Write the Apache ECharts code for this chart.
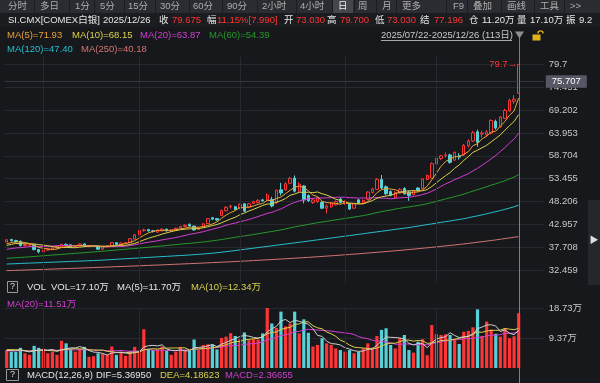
<!DOCTYPE html>
<html><head><meta charset="utf-8">
<script src="https://cdn.jsdelivr.net/npm/echarts@6/dist/echarts.min.js"></script>
<style>html,body{margin:0;padding:0;background:#17181c;}#c{width:600px;height:383px;}</style>
</head><body><div id="c"></div>
<script>
// ---------- data ----------
const categories = ['07/22','07/23','07/24','07/25','07/28','07/29','07/30','07/31',
'08/01','08/04','08/05','08/06','08/07','08/08','08/11','08/12','08/13','08/14','08/15','08/18','08/19','08/20','08/21','08/22','08/25','08/26','08/27','08/28','08/29',
'09/01','09/02','09/03','09/04','09/05','09/08','09/09','09/10','09/11','09/12','09/15','09/16','09/17','09/18','09/19','09/22','09/23','09/24','09/25','09/26','09/29','09/30',
'10/01','10/02','10/03','10/06','10/07','10/08','10/09','10/10','10/13','10/14','10/15','10/16','10/17','10/20','10/21','10/22','10/23','10/24','10/27','10/28','10/29','10/30','10/31',
'11/03','11/04','11/05','11/06','11/07','11/10','11/11','11/12','11/13','11/14','11/17','11/18','11/19','11/20','11/21','11/24','11/25','11/26','11/27','11/28',
'12/01','12/02','12/03','12/04','12/05','12/08','12/09','12/10','12/11','12/12','12/15','12/16','12/17','12/18','12/19','12/22','12/23','12/24','12/26'];
const futureSlots = ['', ' ', '  ', '   ', '    '];

const open = [38.95,39.50,39.30,39.10,38.10,38.10,38.30,37.20,36.70,37.10,37.40,37.60,37.80,38.40,38.30,37.80,38.00,38.50,37.90,38.00,38.00,37.30,37.90,38.00,38.80,38.40,38.70,38.80,39.60,40.60,41.60,41.80,41.50,41.20,41.50,41.90,41.50,41.60,42.10,42.50,43.00,42.60,41.80,42.40,43.20,44.50,44.30,45.00,46.10,47.00,47.00,46.60,47.70,46.90,47.80,48.00,48.60,48.60,48.70,47.90,50.90,50.90,52.40,53.60,50.60,51.80,49.60,48.00,48.20,48.00,46.70,47.00,47.50,48.80,47.80,47.70,46.70,48.60,48.10,48.70,50.30,51.00,53.30,51.60,50.50,49.20,50.20,51.20,50.40,49.80,51.30,51.20,53.30,53.60,56.80,58.10,58.80,58.90,57.70,58.70,58.90,61.00,62.10,64.20,63.70,63.50,63.90,66.60,65.40,67.30,69.00,71.20,73.03];
const close = [39.45,39.25,39.00,38.10,38.30,38.30,37.20,36.70,37.10,37.40,37.60,37.90,38.40,38.20,37.80,38.00,38.50,37.90,38.00,38.10,37.30,37.90,38.10,38.80,38.40,38.70,38.80,39.70,40.60,41.60,41.70,41.50,41.40,41.70,41.90,41.50,41.70,42.10,42.50,42.80,42.60,41.70,42.10,43.10,44.30,44.20,44.00,46.20,46.90,47.20,46.40,47.60,46.00,47.70,48.20,48.50,48.40,49.70,47.20,50.80,50.20,52.30,53.50,50.60,52.20,48.60,48.40,48.60,49.00,46.70,47.20,47.90,48.20,48.00,48.20,46.50,47.70,47.90,48.50,50.40,51.10,53.30,51.30,50.00,49.70,50.30,51.00,50.00,49.60,50.70,50.80,53.40,54.20,56.90,58.20,58.70,58.90,57.20,59.50,58.40,61.10,62.10,64.00,61.80,63.90,64.20,66.80,65.10,67.60,69.10,71.40,71.685,79.675];
const low = [38.85,39.05,38.80,37.95,37.90,37.95,37.05,36.35,36.50,36.95,37.25,37.45,37.70,38.00,37.60,37.65,37.90,37.80,37.75,37.85,37.15,37.20,37.80,37.95,38.25,38.30,38.55,38.70,39.50,40.50,41.30,41.30,41.10,41.05,41.40,41.35,41.35,41.50,41.95,42.35,42.45,41.55,41.65,42.30,43.10,43.95,43.80,44.90,45.95,46.60,46.25,46.45,45.85,46.70,47.60,47.85,48.15,48.45,46.90,47.70,49.60,50.70,52.20,50.30,50.30,47.80,48.10,47.70,47.90,46.50,45.50,46.80,47.30,47.80,47.50,46.30,46.50,47.70,47.90,48.50,50.10,50.90,51.00,49.70,49.40,49.00,50.00,49.80,48.40,49.60,50.50,51.00,53.10,53.40,56.50,57.70,58.30,56.90,57.50,57.80,58.70,60.60,61.90,60.80,62.90,63.10,63.60,64.70,65.10,67.10,68.80,70.60,73.03];
const high = [39.60,39.70,39.45,39.30,38.50,38.45,38.45,37.30,37.25,37.60,37.80,38.05,38.55,38.60,38.40,38.15,38.60,38.60,38.15,38.25,38.10,38.00,38.25,38.95,38.90,38.85,38.95,39.85,40.75,41.70,42.00,41.95,41.70,41.85,42.05,42.00,41.85,42.25,42.65,43.00,43.20,42.70,42.25,43.25,44.45,44.70,44.45,46.35,47.15,47.45,47.20,47.80,47.90,47.90,48.40,48.75,48.85,50.10,49.30,51.00,52.50,52.60,53.90,54.20,52.60,52.00,49.90,48.90,49.30,48.30,47.60,48.10,48.50,49.10,48.50,47.90,47.90,48.80,48.70,50.60,51.40,53.60,54.30,51.90,50.80,50.60,51.30,51.50,50.70,50.90,51.50,53.60,54.40,57.20,58.70,58.90,59.50,59.20,59.70,59.30,61.40,62.50,64.40,64.70,64.40,64.60,67.10,67.00,67.80,69.50,71.80,72.60,79.70];

const ma5 = [38.53,38.82,38.98,38.96,38.82,38.59,38.18,37.72,37.52,37.34,37.20,37.34,37.68,37.90,37.98,38.06,38.18,38.08,38.04,38.10,37.96,37.84,37.88,38.04,38.10,38.38,38.56,38.88,39.24,39.88,40.48,41.02,41.36,41.58,41.64,41.60,41.64,41.78,41.94,42.12,42.34,42.34,42.34,42.46,42.76,43.08,43.54,44.36,45.12,45.70,46.14,46.86,46.82,46.98,47.18,47.60,47.76,48.50,48.40,48.92,49.26,50.04,50.80,51.48,51.76,51.44,50.66,49.68,49.36,48.26,47.98,47.88,47.80,47.60,47.90,47.76,47.72,47.66,47.76,48.20,49.12,50.24,50.92,51.22,51.08,50.92,50.46,50.20,50.12,50.32,50.42,50.90,51.74,53.20,54.70,56.28,57.38,57.98,58.50,58.54,59.02,59.66,61.02,61.48,62.58,63.20,64.14,64.36,65.52,66.56,68.00,68.98,71.93];
const ma10 = [38.16,38.42,38.61,38.58,38.53,38.56,38.50,38.35,38.24,38.08,37.90,37.76,37.70,37.71,37.66,37.63,37.76,37.88,37.97,38.04,38.01,38.01,37.98,38.04,38.10,38.17,38.20,38.38,38.64,38.99,39.43,39.79,40.12,40.41,40.76,41.04,41.33,41.57,41.76,41.88,41.97,41.99,42.06,42.20,42.44,42.71,42.94,43.35,43.79,44.23,44.61,45.20,45.59,46.05,46.44,46.87,47.31,47.66,47.69,48.05,48.43,48.90,49.65,49.94,50.34,50.35,50.35,50.24,50.42,50.01,49.71,49.27,48.74,48.48,48.08,47.87,47.80,47.73,47.68,48.05,48.44,48.98,49.29,49.49,49.64,50.02,50.35,50.56,50.67,50.70,50.67,50.68,50.97,51.66,52.51,53.35,54.14,54.86,55.85,56.62,57.65,58.52,59.50,59.99,60.56,61.11,61.90,62.69,63.50,64.57,65.60,66.56,68.15];
const ma20 = [37.26,37.44,37.58,37.66,37.76,37.87,37.93,37.94,37.95,37.99,38.03,38.09,38.16,38.15,38.10,38.10,38.13,38.12,38.11,38.06,37.95,37.89,37.84,37.88,37.88,37.90,37.98,38.13,38.31,38.52,38.72,38.90,39.05,39.23,39.43,39.61,39.77,39.98,40.20,40.44,40.70,40.89,41.09,41.31,41.60,41.88,42.14,42.46,42.78,43.06,43.29,43.60,43.83,44.13,44.44,44.79,45.13,45.51,45.74,46.14,46.52,47.05,47.62,48.00,48.39,48.61,48.83,48.95,49.06,49.03,49.07,49.09,49.20,49.21,49.21,49.11,49.08,48.99,49.05,49.03,49.08,49.13,49.02,48.99,48.86,48.95,49.08,49.15,49.18,49.38,49.56,49.83,50.13,50.58,51.08,51.69,52.25,52.71,53.26,53.66,54.16,54.60,55.24,55.83,56.54,57.23,58.02,58.78,59.68,60.60,61.63,62.54,63.87];
const ma60 = [35.20,35.27,35.34,35.41,35.48,35.55,35.63,35.71,35.79,35.87,35.95,36.03,36.11,36.19,36.27,36.35,36.43,36.51,36.59,36.67,36.75,36.84,36.93,37.02,37.11,37.20,37.29,37.38,37.47,37.56,37.65,37.75,37.85,37.95,38.05,38.15,38.25,38.35,38.45,38.55,38.64,38.74,38.84,38.95,39.08,39.22,39.35,39.51,39.68,39.85,40.01,40.20,40.34,40.50,40.66,40.83,41.01,41.20,41.35,41.55,41.72,41.94,42.18,42.39,42.62,42.80,42.98,43.18,43.38,43.53,43.69,43.86,44.02,44.19,44.36,44.50,44.66,44.82,45.00,45.20,45.43,45.69,45.91,46.10,46.28,46.48,46.68,46.85,47.00,47.15,47.31,47.50,47.72,47.97,48.24,48.53,48.82,49.07,49.35,49.61,49.92,50.26,50.62,50.94,51.26,51.60,51.98,52.29,52.64,53.00,53.42,53.82,54.39];
const ma120 = [33.90,33.94,33.98,34.03,34.07,34.11,34.15,34.19,34.24,34.28,34.32,34.36,34.40,34.45,34.49,34.53,34.57,34.61,34.66,34.70,34.74,34.80,34.86,34.92,34.99,35.05,35.11,35.17,35.23,35.29,35.36,35.42,35.48,35.54,35.60,35.66,35.72,35.79,35.85,35.91,35.97,36.04,36.12,36.20,36.29,36.38,36.48,36.60,36.73,36.86,36.99,37.13,37.26,37.40,37.53,37.67,37.80,37.94,38.07,38.21,38.34,38.48,38.61,38.75,38.88,39.02,39.16,39.30,39.44,39.58,39.72,39.86,40.00,40.14,40.28,40.42,40.56,40.70,40.84,40.99,41.13,41.27,41.41,41.55,41.69,41.84,41.98,42.12,42.26,42.43,42.60,42.76,42.93,43.10,43.27,43.44,43.61,43.77,43.94,44.11,44.28,44.50,44.73,44.94,45.17,45.41,45.66,45.90,46.16,46.43,46.72,47.01,47.40];
const ma250 = [32.38,32.42,32.45,32.49,32.52,32.56,32.59,32.63,32.67,32.70,32.74,32.78,32.82,32.86,32.89,32.93,32.97,33.01,33.05,33.09,33.13,33.17,33.21,33.25,33.29,33.33,33.37,33.41,33.46,33.50,33.54,33.58,33.63,33.67,33.71,33.76,33.80,33.85,33.89,33.94,33.98,34.03,34.07,34.12,34.17,34.22,34.27,34.32,34.37,34.42,34.47,34.53,34.58,34.64,34.69,34.75,34.81,34.87,34.92,34.99,35.05,35.11,35.17,35.24,35.30,35.37,35.43,35.50,35.57,35.64,35.71,35.79,35.86,35.94,36.01,36.09,36.17,36.25,36.33,36.42,36.50,36.59,36.67,36.76,36.85,36.94,37.03,37.13,37.22,37.32,37.41,37.52,37.62,37.72,37.83,37.94,38.05,38.16,38.27,38.39,38.51,38.63,38.76,38.89,39.02,39.15,39.29,39.43,39.58,39.73,39.88,40.03,40.18];

const volumes = [5.6,5.1,5.0,6.3,4.6,4.1,6.9,6.3,6.0,4.6,5.1,4.1,8.5,7.7,6.0,5.1,6.0,6.6,3.5,3.7,4.6,4.4,4.1,6.7,4.1,5.1,3.8,5.1,6.6,5.0,12.1,6.0,5.6,5.8,6.7,5.5,4.1,5.1,6.6,5.6,5.4,8.9,5.6,7.2,7.4,7.4,5.8,9.4,9.8,10.9,10.0,9.0,11.1,8.7,9.0,8.9,10.8,18.73,13.9,12.5,17.6,13.0,13.9,17.6,10.8,15.2,11.0,6.7,7.2,9.3,7.7,7.2,6.1,5.6,5.1,5.6,4.6,5.1,6.1,7.7,6.4,10.0,11.9,12.4,7.2,6.1,9.3,10.3,5.6,4.8,8.2,9.0,4.0,13.4,10.6,10.3,10.5,10.3,9.0,7.5,11.3,11.6,12.7,18.3,10.0,14.5,12.0,10.7,9.8,12.4,9.3,9.9,17.10];
const volMa5 = [5.44,5.44,5.36,5.64,5.32,5.02,5.38,5.64,5.58,5.58,5.78,5.22,5.66,6.00,6.28,6.28,6.66,6.28,5.44,4.98,4.88,4.56,4.06,4.70,4.78,4.88,4.76,4.96,4.94,5.12,6.52,6.96,7.06,6.90,7.24,5.92,5.54,5.44,5.60,5.38,5.36,6.32,6.42,6.54,6.90,7.30,6.68,7.44,7.96,8.66,9.18,9.82,10.16,9.94,9.56,9.34,9.70,11.23,12.27,12.97,14.71,15.15,14.18,14.92,14.58,14.10,13.70,12.26,10.18,9.88,8.38,7.62,7.50,7.18,6.34,5.92,5.40,5.20,5.30,5.82,5.98,7.06,8.42,9.68,9.58,9.52,9.38,9.06,7.70,7.22,7.64,7.58,6.32,7.88,9.04,9.46,9.76,11.02,10.14,9.52,9.72,9.94,10.42,12.28,12.78,13.42,13.50,13.10,11.40,11.88,10.84,10.42,11.70];
const volMa10 = [5.73,5.74,5.71,5.66,5.42,5.23,5.41,5.50,5.61,5.45,5.40,5.30,5.65,5.79,5.93,6.03,5.94,5.97,5.72,5.63,5.58,5.61,5.17,5.07,4.88,4.88,4.66,4.51,4.82,4.95,5.70,5.86,6.01,5.92,6.18,6.22,6.25,6.25,6.25,6.31,5.64,5.93,5.93,6.07,6.14,6.33,6.50,6.93,7.25,7.78,8.24,8.25,8.80,8.95,9.11,9.26,9.76,10.69,11.10,11.26,12.02,12.42,12.70,13.59,13.77,14.40,14.42,13.22,12.55,12.23,11.24,10.66,9.88,8.68,8.11,7.15,6.51,6.35,6.24,6.08,5.95,6.23,6.81,7.49,7.70,7.75,8.22,8.74,8.69,8.40,8.58,8.48,7.69,7.79,8.13,8.55,8.67,8.67,9.01,9.28,9.59,9.85,10.72,11.21,11.15,11.57,11.72,11.76,11.84,12.33,12.13,11.96,12.34];
const volMa20 = [5.37,5.38,5.35,5.43,5.40,5.38,5.47,5.56,5.59,5.52,5.57,5.52,5.68,5.73,5.68,5.63,5.68,5.74,5.67,5.54,5.49,5.46,5.41,5.43,5.41,5.46,5.30,5.24,5.27,5.29,5.64,5.74,5.59,5.50,5.53,5.55,5.46,5.38,5.54,5.63,5.67,5.90,5.97,6.00,6.16,6.28,6.38,6.59,6.75,7.05,6.94,7.09,7.37,7.51,7.63,7.80,8.13,8.81,9.18,9.52,10.13,10.34,10.75,11.27,11.44,11.83,12.09,11.96,11.83,11.75,11.63,11.54,11.29,11.14,10.94,10.78,10.47,9.79,9.40,9.16,8.60,8.45,8.35,8.09,7.91,7.45,7.37,7.55,7.47,7.24,7.27,7.36,7.25,7.64,7.92,8.15,8.45,8.71,8.85,8.84,9.09,9.17,9.21,9.50,9.64,10.06,10.20,10.22,10.43,10.81,10.86,10.91,11.51];

const priceTicks = [32.459, 37.708, 42.957, 48.206, 53.455, 58.704, 63.953, 69.202, 74.451, 79.7];
const volTicks = [9.37, 18.73];
const monthStarts = ['08/01','09/01','10/01','11/03','12/01'];
const cursorPrice = 75.707;
const highMark = 79.7;

// texts shown in the reference
const toolbarTabs = ['分时','多日','1分','5分','15分','30分','60分','90分','2小时','4小时','日','周','月','更多','F9','叠加','画线','工具','>>'];
const quoteTexts = ['SI.CMX[COMEX白银]','2025/12/26','收','79.675','幅','11.15%[7.990]','开','73.030','高','79.700','低','73.030','结','77.196','仓','11.20万','量','17.10万','振','9.2'];
const maLegend = ['MA(5)=71.93','MA(10)=68.15','MA(20)=63.87','MA(60)=54.39','MA(120)=47.40','MA(250)=40.18'];
const volLegend = ['VOL','VOL=17.10万','MA(5)=11.70万','MA(10)=12.34万','MA(20)=11.51万'];
const macdLegend = ['MACD(12,26,9)','DIF=5.36950','DEA=4.18623','MACD=2.36655'];
const rangeText = '2025/07/22-2025/12/26 (113日)';

// ---------- styles / layout ----------
const FONT = '"Liberation Sans", Arial, "Noto Sans CJK SC", sans-serif';
const RED = '#ff3535', CYAN = '#55d2d8';
const C_MA5 = '#e8a438', C_MA10 = '#d9d24c', C_MA20 = '#d23fd2', C_MA60 = '#27982a', C_MA120 = '#26bfcc', C_MA250 = '#d27474';
const C_VMA5 = '#cfcfcf';
const GRIDLINE = '#27292e';
const SLOT = 4.571, NSLOT = categories.length + futureSlots.length;
const G_LEFT = 4.4, G_W = SLOT * NSLOT;

const chart = echarts.init(document.getElementById('c'), null, {renderer: 'canvas', width: 600, height: 383});
const xCats = categories.concat(futureSlots);
const candle = categories.map((d, i) => [open[i], close[i], low[i], high[i]]);

function lineS(data, color, xi) {
  return {type: 'line', data, xAxisIndex: xi, yAxisIndex: xi, symbol: 'none', silent: true,
    lineStyle: {width: 1, color}, itemStyle: {color}, z: 3, animation: false};
}
function monthMark(extra) {
  return {silent: true, symbol: ['none', 'none'], animation: false, label: {show: false},
    lineStyle: {color: GRIDLINE, width: 1, type: 'solid'},
    data: monthStarts.map(d => ({xAxis: d})).concat(extra || [])};
}
const xAxisBase = {type: 'category', data: xCats, boundaryGap: true, axisLine: {show: false}, axisTick: {show: false}, axisLabel: {show: false}, splitLine: {show: false}};

chart.setOption({
  backgroundColor: '#17181c',
  animation: false,
  grid: [
    {left: G_LEFT, top: 57, width: G_W, height: 226, outerBoundsMode: 'none'},
    {left: G_LEFT, top: 308, width: G_W, height: 60, outerBoundsMode: 'none'}
  ],
  xAxis: [Object.assign({gridIndex: 0}, xAxisBase), Object.assign({gridIndex: 1}, xAxisBase)],
  yAxis: [
    {gridIndex: 0, type: 'value', position: 'right', min: 29.55, max: 81.35,
      axisLine: {show: false}, axisTick: {show: false, customValues: priceTicks},
      axisLabel: {customValues: priceTicks, formatter: v => String(v), color: '#c8c8c8', fontSize: 9.5, fontFamily: FONT, margin: 5, align: 'left'},
      splitLine: {show: true, lineStyle: {color: GRIDLINE, width: 1}}},
    {gridIndex: 1, type: 'value', position: 'right', min: 0, max: 18.73,
      axisLine: {show: false}, axisTick: {show: false, customValues: volTicks},
      axisLabel: {customValues: volTicks, formatter: v => v.toFixed(2) + '万', color: '#c8c8c8', fontSize: 9.5, fontFamily: FONT, margin: 5, align: 'left'},
      splitLine: {show: true, lineStyle: {color: GRIDLINE, width: 1}}}
  ],
  series: [
    {type: 'candlestick', data: candle, xAxisIndex: 0, yAxisIndex: 0, barWidth: '64%', z: 2,
      itemStyle: {color: 'rgba(0,0,0,0)', color0: CYAN, borderColor: RED, borderColor0: CYAN, borderWidth: 1},
      markLine: monthMark([{yAxis: cursorPrice, lineStyle: {color: '#34363c', width: 1, type: 'solid'},
        label: {show: true, position: 'end', formatter: String(cursorPrice), color: '#ffffff', backgroundColor: '#555864',
          padding: [2, 6, 1, 6], fontSize: 9.5, fontFamily: FONT, distance: 2}}]),
      markPoint: {symbol: 'circle', symbolSize: 1, itemStyle: {color: 'rgba(0,0,0,0)'}, silent: true, animation: false,
        data: [{coord: [categories[categories.length - 1], highMark], value: highMark}],
        label: {show: true, position: 'left', distance: 1, formatter: highMark + '→', color: RED, fontSize: 9.5, fontFamily: FONT}}},
    lineS(ma250, C_MA250, 0),
    lineS(ma120, C_MA120, 0),
    lineS(ma60, C_MA60, 0),
    lineS(ma20, C_MA20, 0),
    lineS(ma10, C_MA10, 0),
    lineS(ma5, C_MA5, 0),
    {type: 'bar', xAxisIndex: 1, yAxisIndex: 1, barWidth: '70%', animation: false,
      data: volumes.map((v, i) => ({value: v, itemStyle: {color: close[i] >= open[i] ? RED : CYAN}})),
      markLine: monthMark()},
    lineS(volMa20, C_MA20, 1),
    lineS(volMa10, C_MA10, 1),
    lineS(volMa5, C_VMA5, 1)
  ]
});

// ---------- chrome (text, toolbar, cursor) ----------
const g = [];
function txt(x, y, text, fill, size, extra) {
  g.push(Object.assign({type: 'text', x, y, silent: true, z: 10,
    style: {text, fill, font: (size || 9.5) + 'px ' + FONT, verticalAlign: 'middle', align: 'left'}}, extra || {}));
}
function rect(x, y, w, h, fill, stroke) {
  g.push({type: 'rect', silent: true, z: 9, shape: {x, y, width: w, height: h},
    style: stroke ? {fill: 'none', stroke, lineWidth: 1} : {fill}});
}
function seg(x1, y1, x2, y2, color) {
  g.push({type: 'line', silent: true, z: 9, shape: {x1, y1, x2, y2}, style: {stroke: color, lineWidth: 1}});
}

// toolbar
rect(0, 0, 600, 13, '#2b2c31');
rect(333, 0, 20, 13, '#45464c');
const tabX = [8, 40, 75, 100, 128, 160, 193, 227, 262, 300, 338, 358, 382, 402, 453, 473, 507, 540, 570];
[34, 69, 94, 124, 155, 189, 222, 257, 296, 332, 354, 376, 396, 446, 467, 501, 534, 564].forEach(x => rect(x, 0, 1, 13, '#1c1d21'));
toolbarTabs.forEach((t, i) => txt(tabX[i], 6.5, t, t === '日' ? '#f0f0f0' : '#aeaeae', 9.5));
rect(0, 13, 600, 14, '#1b1c20');
// quote line
const qX = [8, 103, 159, 172, 207, 217, 284, 296, 327, 340, 375, 387, 420, 434, 469, 482, 517, 530, 566, 579];
const qRed = [3, 5, 7, 9, 11, 13];
quoteTexts.forEach((t, i) => txt(qX[i], 20.5, t, qRed.indexOf(i) >= 0 ? RED : '#e6e6e6', 9.5));

// MA legend
const maX = [7, 72, 140, 209, 7, 81], maY = [35, 35, 35, 35, 49.5, 49.5];
const maC = [C_MA5, C_MA10, C_MA20, C_MA60, C_MA120, C_MA250];
maLegend.forEach((t, i) => txt(maX[i], maY[i], t, maC[i], 9.5));

// date range + lock
txt(381, 35, rangeText, '#c8c8c8', 9.5);
seg(381, 40.5, 512, 40.5, '#a8a8a8');
rect(532.5, 34.5, 8, 6, '#e2b21e');
g.push({type: 'arc', silent: true, z: 9, shape: {cx: 540.5, cy: 33.5, r: 2.6, startAngle: Math.PI, endAngle: Math.PI * 2},
  style: {fill: 'none', stroke: '#e2b21e', lineWidth: 1.3}});

// volume legend
rect(7.5, 281.5, 10, 11, null, '#9a9a9a');
txt(10, 287, '?', '#dcdcdc', 9);
txt(27, 287, volLegend[0], '#e6e6e6', 9.5);
txt(51, 287, volLegend[1], '#e6e6e6', 9.5);
txt(117, 287, volLegend[2], '#e6e6e6', 9.5);
txt(191, 287, volLegend[3], C_MA10, 9.5);
txt(7, 304, volLegend[4], C_MA20, 9.5);

// MACD legend
rect(6.5, 369.5, 12, 11, null, '#9a9a9a');
txt(10, 375, '?', '#dcdcdc', 9);
txt(27, 375, macdLegend[0], '#e6e6e6', 9.5);
txt(96, 375, macdLegend[1], '#e6e6e6', 9.5);
txt(160, 375, macdLegend[2], C_MA10, 9.5);
txt(225, 375, macdLegend[3], C_MA20, 9.5);

// right scrollbar strip
rect(588, 200, 12, 85, '#24262b');
txt(589.5, 241, '▶', '#e0e0e0', 9);

// cursor line at the last candle, placed through the axis scale
const cx = Math.round(chart.convertToPixel({xAxisIndex: 0}, categories[categories.length - 1])) + 0.5;
seg(cx, 38, cx, 383, '#7e7e7e');
g.push({type: 'polygon', silent: true, z: 11, shape: {points: [[cx - 4.5, 31.5], [cx + 4.5, 31.5], [cx, 38.5]]}, style: {fill: '#8e8e8e'}});

chart.setOption({graphic: g});
</script>
</body></html>
